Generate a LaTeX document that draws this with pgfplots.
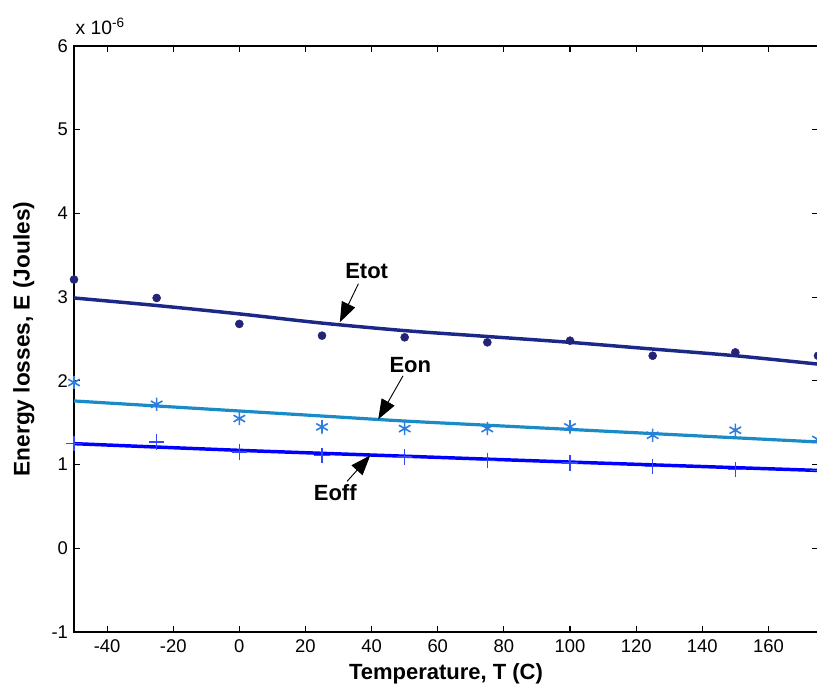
\documentclass[border=0pt]{standalone}
\usepackage{fontspec}
\setmainfont{Liberation Sans}
\usepackage{pgfplots}
\pgfplotsset{compat=1.18}
\usetikzlibrary{calc,arrows.meta}
\definecolor{ctot}{RGB}{28,40,135}
\definecolor{ctotm}{RGB}{35,35,120}
\definecolor{con}{RGB}{25,140,200}
\definecolor{conm}{RGB}{45,125,225}
\definecolor{coff}{RGB}{0,0,255}
\definecolor{coffm}{RGB}{50,70,255}
\begin{document}
\begin{tikzpicture}
\begin{axis}[
  name=ax,
  scale only axis,
  width=558pt, height=439.5pt,
  xmin=-50, xmax=175, ymin=-1, ymax=6,
  xtick={-40,-20,...,160},
  ytick={-1,0,...,6},
  tick align=inside,
  major tick length=4.5pt,
  tick style={black, line width=0.8pt},
  axis line style={line width=1.1pt},
  every tick label/.append style={font=\fontsize{13.8}{16}\selectfont},
  xticklabel style={yshift=-2.5pt},
  yticklabel style={xshift=-1pt},
  /pgf/number format/assume math mode=true,
  xlabel={\textbf{Temperature, T (C)}},
  ylabel={\textbf{Energy losses, E (Joules)}},
  xlabel style={font=\fontsize{16.5}{19}\selectfont, yshift=-1pt},
  ylabel style={font=\fontsize{17}{19}\selectfont, yshift=6pt},
  clip=false,
]
% Etot fit
\addplot[ctot, line width=2.6pt, smooth] coordinates {
(-50,2.99) (-25,2.90) (0,2.80) (25,2.69) (50,2.60) (75,2.53) (100,2.46) (125,2.38) (150,2.30) (175,2.20)};
% Eon fit
\addplot[con, line width=2.4pt, smooth] coordinates {
(-50,1.76) (-25,1.70) (0,1.64) (25,1.58) (50,1.52) (75,1.47) (100,1.42) (125,1.37) (150,1.32) (175,1.27)};
% Eoff fit
\addplot[coff, line width=2.6pt, smooth] coordinates {
(-50,1.25) (0,1.17) (50,1.10) (100,1.03) (175,0.93)};
% Etot data
\addplot[only marks, mark=*, mark size=3pt, mark options={fill=ctotm, draw=ctotm}] coordinates {
(-50,3.21) (-25,2.99) (0,2.68) (25,2.54) (50,2.52) (75,2.46) (100,2.48) (125,2.30) (150,2.34) (175,2.30)};
% Eon data
\addplot[only marks, mark=asterisk, mark size=5pt, mark options={draw=conm, line width=1.2pt}] coordinates {
(-50,1.98) (-25,1.72) (0,1.55) (25,1.45) (50,1.43) (75,1.43) (100,1.45) (125,1.35) (150,1.41) (175,1.30)};
% Eoff data
\addplot[only marks, mark=+, mark size=5.8pt, mark options={draw=coffm, line width=1.1pt}] coordinates {
(-50,1.25) (-25,1.27) (0,1.15) (25,1.11) (50,1.09) (75,1.05) (100,1.02) (125,0.98) (150,0.94) (175,0.93)};
% annotations
\node[font=\fontsize{16.5}{19}\selectfont\bfseries] at (axis cs:38.5,3.31) {Etot};
\draw[line width=0.7pt, -{Triangle[length=15pt,width=11pt]}] (axis cs:36,3.16) -- (axis cs:30.4,2.70);
\node[font=\fontsize{16.5}{19}\selectfont\bfseries] at (axis cs:51.7,2.19) {Eon};
\draw[line width=0.7pt, -{Triangle[length=15pt,width=11pt]}] (axis cs:49.5,2.06) -- (axis cs:42,1.54);
\node[font=\fontsize{16.5}{19}\selectfont\bfseries] at (axis cs:29,0.66) {Eoff};
\draw[line width=0.7pt, -{Triangle[length=15pt,width=11pt]}] (axis cs:32.6,0.80) -- (axis cs:39.6,1.11);
\node[anchor=south west, font=\fontsize{14.5}{17}\selectfont, inner sep=0pt] at ($(rel axis cs:0,1)+(1pt,8pt)$) {x 10\textsuperscript{-6}};
\end{axis}
\pgfresetboundingbox
\path ($(ax.south west)+(-55.5pt,-48pt)$) rectangle ($(ax.north east)+(-0.75pt,34.5pt)$);
\end{tikzpicture}
\end{document}
